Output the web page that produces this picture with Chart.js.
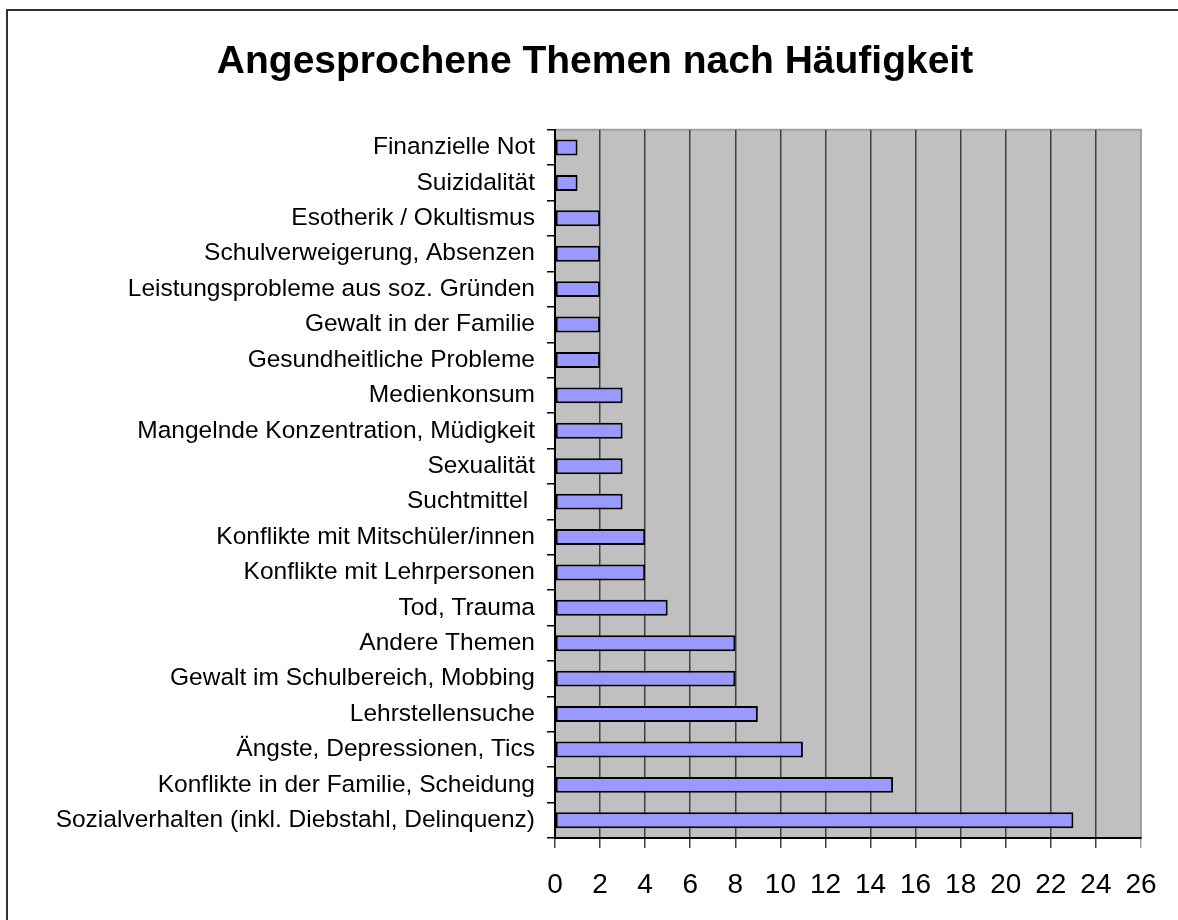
<!DOCTYPE html>
<html>
<head>
<meta charset="utf-8">
<script src="https://cdn.jsdelivr.net/npm/chart.js@4"></script>
<style>
  body { margin: 0; background: #fff; overflow: hidden; }
  #rahmen { position: absolute; left: 6px; top: 9px; width: 1200px; height: 940px; border: 2px solid #333; }
  #grafik { position: absolute; left: 0; top: 0; }
</style>
</head>
<body>
<div id="rahmen"></div>
<canvas id="grafik" width="1178" height="920"></canvas>
<script>
const themen = [
  "Finanzielle Not",
  "Suizidalität",
  "Esotherik / Okultismus",
  "Schulverweigerung, Absenzen",
  "Leistungsprobleme aus soz. Gründen",
  "Gewalt in der Familie",
  "Gesundheitliche Probleme",
  "Medienkonsum",
  "Mangelnde Konzentration, Müdigkeit",
  "Sexualität",
  "Suchtmittel ",
  "Konflikte mit Mitschüler/innen",
  "Konflikte mit Lehrpersonen",
  "Tod, Trauma",
  "Andere Themen",
  "Gewalt im Schulbereich, Mobbing",
  "Lehrstellensuche",
  "Ängste, Depressionen, Tics",
  "Konflikte in der Familie, Scheidung",
  "Sozialverhalten (inkl. Diebstahl, Delinquenz)",
];
const anzahl = [1, 1, 2, 2, 2, 2, 2, 3, 3, 3, 3, 4, 4, 5, 8, 8, 9, 11, 15, 23];
const achseMin = 0;
const achseMax = 26;
const schritt = 2;

const schrift = "'Liberation Sans', Arial, sans-serif";

// grauer Hintergrund der Zeichenfläche
const hintergrund = {
  id: "hintergrund",
  beforeDraw(chart) {
    const { ctx, chartArea: a } = chart;
    ctx.save();
    ctx.fillStyle = "#C0C0C0";
    ctx.fillRect(a.left, a.top, a.right - a.left, a.bottom - a.top);
    ctx.strokeStyle = "#A0A0A0";
    ctx.lineWidth = 2;
    ctx.beginPath();
    ctx.moveTo(a.left, a.top);
    ctx.lineTo(a.right, a.top);
    ctx.lineTo(a.right, a.bottom);
    ctx.stroke();
    ctx.restore();
  },
};

new Chart(document.getElementById("grafik").getContext("2d"), {
  type: "bar",
  data: {
    labels: themen,
    datasets: [
      {
        label: "Anzahl",
        data: anzahl,
        backgroundColor: "#9999FF",
        borderColor: "#000",
        borderWidth: 2,
        borderSkipped: false,
        barPercentage: 0.45,
        categoryPercentage: 1,
      },
    ],
  },
  options: {
    indexAxis: "y",
    responsive: false,
    animation: false,
    layout: { padding: { left: 49, right: 37, top: 0, bottom: 0 } },
    plugins: {
      legend: { display: false },
      tooltip: { enabled: false },
      title: {
        display: true,
        text: "Angesprochene Themen nach Häufigkeit",
        color: "#000",
        font: { family: schrift, size: 39, weight: "bold" },
        padding: { top: 39, bottom: 44 },
      },
    },
    scales: {
      x: {
        min: achseMin,
        max: achseMax,
        ticks: {
          stepSize: schritt,
          color: "#000",
          padding: 20,
          font: { family: schrift, size: 28 },
        },
        grid: {
          color: (c) => (c.tick && c.tick.value === achseMax ? "#A0A0A0" : "#404040"),
          lineWidth: 1.5,
          tickLength: 10,
        },
        border: { color: "#000", width: 2 },
        afterFit(scale) {
          scale.height = 82;
          scale.paddingLeft = 0;
          scale.paddingRight = 0;
        },
      },
      y: {
        ticks: {
          color: "#000",
          padding: 12,
          autoSkip: false,
          font: { family: schrift, size: 24.5 },
        },
        grid: {
          drawOnChartArea: false,
          color: "#000",
          lineWidth: 1.5,
          tickLength: 8,
        },
        border: { color: "#000", width: 2 },
        afterFit(scale) {
          scale.width = 506;
          scale.paddingTop = 0;
          scale.paddingBottom = 0;
        },
      },
    },
  },
  plugins: [hintergrund],
});
</script>
</body>
</html>
